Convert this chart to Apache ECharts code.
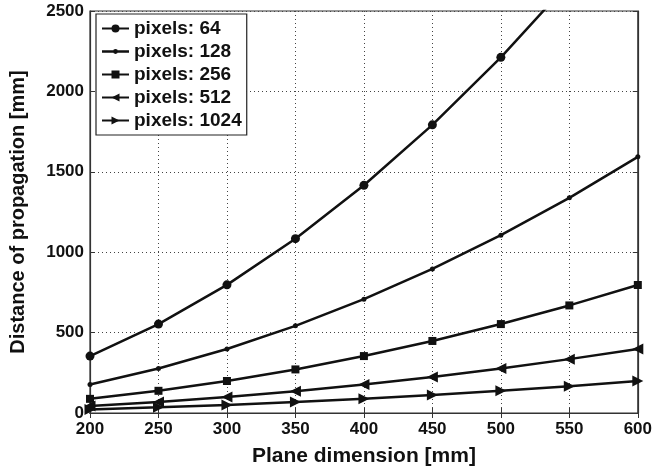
<!DOCTYPE html>
<html>
<head>
<meta charset="utf-8">
<script src="https://cdn.jsdelivr.net/npm/echarts@6/dist/echarts.min.js"></script>
<style>
html,body{margin:0;padding:0;background:#fff;}
#chart{width:655px;height:472px;}
</style>
</head>
<body>
<div id="chart"></div>
<script>
(function(){

var chart = echarts.init(document.getElementById("chart"));

var planeDim = [200, 250, 300, 350, 400, 450, 500, 550, 600];
var px64   = [354, 553, 797, 1084, 1416, 1792, 2212, 2677, 3186];
var px128  = [177, 277, 398, 542, 708, 896, 1106, 1338, 1593];
var px256  = [88, 138, 199, 271, 354, 448, 553, 669, 796];
var px512  = [44, 69, 100, 135, 177, 224, 277, 335, 398];
var px1024 = [22, 35, 50, 68, 89, 112, 138, 167, 199];
var yTicks = [0, 500, 1000, 1500, 2000, 2500];

var font = 'Liberation Sans, Arial, sans-serif';
var ink = '#111';

function pairs(vals){
    return planeDim.map(function(x, i){ return [x, vals[i]]; });
}

function line(name, vals, symbol, size, rot){
    return {
        name: name,
        type: 'line',
        data: pairs(vals),
        symbol: symbol,
        symbolSize: size,
        symbolRotate: rot || 0,
        showSymbol: true,
        clip: true,
        lineStyle: {color: ink, width: 2.5},
        itemStyle: {color: ink}
    };
}

var gridLine = {show: true, lineStyle: {color: '#444', type: [1, 3], width: 1}};
var plain = function(v){ return String(v); };

// small-dot legend icon for the 128 series (line + little dot)
var smallDotIcon = 'path://M0,0 M0,3.8 L27,3.8 L27,6.2 L0,6.2 Z M13.5,2.6 A2.4,2.4 0 1 1 13.5,7.4 A2.4,2.4 0 1 1 13.5,2.6 Z M27,10';

option = {
    animation: false,
    backgroundColor: '#fff',
    textStyle: {fontFamily: font},
    grid: {
        left: 86,
        right: 16,
        top: 11,
        bottom: 56,
        show: true,
        borderColor: '#333',
        borderWidth: 1.2
    },
    legend: {
        orient: 'vertical',
        left: 96,
        top: 14,
        padding: [5, 5, 5, 5],
        itemGap: 4,
        itemWidth: 27,
        itemHeight: 10,
        borderColor: '#222',
        borderWidth: 1.2,
        backgroundColor: '#fff',
        textStyle: {fontFamily: font, fontWeight: 'bold', fontSize: 19, color: ink},
        data: [
            'pixels: 64',
            {name: 'pixels: 128', icon: smallDotIcon},
            'pixels: 256',
            'pixels: 512',
            'pixels: 1024'
        ]
    },
    xAxis: [
        {
            type: 'value',
            min: 200,
            max: 600,
            interval: 50,
            name: 'Plane dimension [mm]',
            nameLocation: 'middle',
            nameGap: 33,
            nameTextStyle: {fontFamily: font, fontWeight: 'bold', fontSize: 21, color: ink},
            axisLine: {show: true, onZero: false, lineStyle: {color: '#333', width: 1.2}},
            axisTick: {inside: true, length: 5, lineStyle: {color: '#333'}},
            axisLabel: {fontFamily: font, fontWeight: 'bold', fontSize: 17, color: ink, margin: 8, formatter: plain},
            splitLine: gridLine
        },
        {
            type: 'value',
            position: 'top',
            min: 200,
            max: 600,
            interval: 50,
            axisLine: {show: true, lineStyle: {color: '#333', width: 1.2}},
            axisTick: {inside: true, length: 5, lineStyle: {color: '#333'}},
            axisLabel: {show: false},
            splitLine: {show: false}
        }
    ],
    yAxis: [
        {
            type: 'value',
            min: yTicks[0],
            max: yTicks[yTicks.length - 1],
            interval: 500,
            name: 'Distance of propagation [mm]',
            nameLocation: 'middle',
            nameGap: 62,
            nameTextStyle: {fontFamily: font, fontWeight: 'bold', fontSize: 20, color: ink},
            axisLine: {show: true, lineStyle: {color: '#333', width: 1.2}},
            axisTick: {inside: true, length: 5, lineStyle: {color: '#333'}},
            axisLabel: {fontFamily: font, fontWeight: 'bold', fontSize: 17, color: ink, margin: 6, formatter: plain},
            splitLine: gridLine
        },
        {
            type: 'value',
            position: 'right',
            min: yTicks[0],
            max: yTicks[yTicks.length - 1],
            interval: 500,
            axisLine: {show: true, lineStyle: {color: '#333', width: 1.2}},
            axisTick: {inside: true, length: 5, lineStyle: {color: '#333'}},
            axisLabel: {show: false},
            splitLine: {show: false}
        }
    ],
    series: [
        line('pixels: 64', px64, 'circle', 9),
        line('pixels: 128', px128, 'circle', 5),
        line('pixels: 256', px256, 'rect', 8),
        line('pixels: 512', px512, 'triangle', 11, 90),
        line('pixels: 1024', px1024, 'triangle', 11, -90)
    ]
};

chart.setOption(option);

})();
</script>
</body>
</html>
